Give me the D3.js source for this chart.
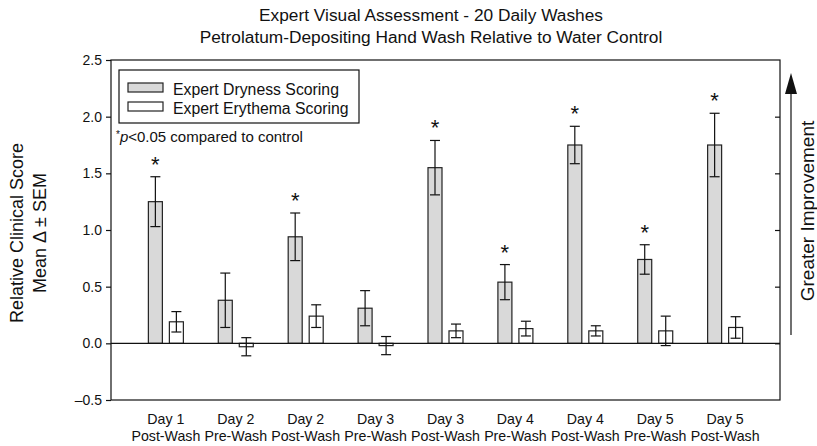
<!DOCTYPE html>
<html>
<head>
<meta charset="utf-8">
<script src="https://cdn.jsdelivr.net/npm/d3@7"></script>
<style>
  body { margin: 0; background: #fff; }
  svg text { font-family: "Liberation Sans", Arial, sans-serif; fill: #111; }
</style>
</head>
<body>
<script>
// data
var dayLabels = ["Day 1", "Day 2", "Day 2", "Day 3", "Day 3", "Day 4", "Day 4", "Day 5", "Day 5"];
var washLabels = ["Post-Wash", "Pre-Wash", "Post-Wash", "Pre-Wash", "Post-Wash", "Pre-Wash", "Post-Wash", "Pre-Wash", "Post-Wash"];
var drynessMean = [1.25, 0.38, 0.94, 0.31, 1.55, 0.54, 1.75, 0.74, 1.75];
var drynessSem  = [0.22, 0.24, 0.21, 0.155, 0.24, 0.155, 0.165, 0.13, 0.28];
var erythemaMean = [0.19, -0.03, 0.24, -0.02, 0.11, 0.13, 0.11, 0.11, 0.14];
var erythemaSem  = [0.09, 0.08, 0.10, 0.08, 0.06, 0.065, 0.045, 0.13, 0.095];
var significant = [true, false, true, false, true, true, true, true, true];
var yTicks = [-0.5, 0.0, 0.5, 1.0, 1.5, 2.0, 2.5];

var width = 817, height = 446;
var plotLeft = 111, plotRight = 780, plotTop = 60, plotBottom = 400;

var svg = d3.select("body").append("svg")
    .attr("width", width)
    .attr("height", height);

var x = d3.scalePoint()
    .domain(d3.range(dayLabels.length))
    .range([plotLeft, plotRight])
    .padding(0.785);

var y = d3.scaleLinear()
    .domain([-0.5, 2.5])
    .range([plotBottom, plotTop]);

var barW = 14, gap = 7;

// titles
svg.append("text")
    .attr("x", 431).attr("y", 21)
    .attr("text-anchor", "middle")
    .style("font-size", "17.3px")
    .text("Expert Visual Assessment - 20 Daily Washes");
svg.append("text")
    .attr("x", 431).attr("y", 43)
    .attr("text-anchor", "middle")
    .style("font-size", "17.3px")
    .text("Petrolatum-Depositing Hand Wash Relative to Water Control");

// left axis
var fmt = function(d) { return d < 0 ? "\u2013" + d3.format(".1f")(-d) : d3.format(".1f")(d); };
var yAxis = svg.append("g")
    .attr("transform", "translate(" + plotLeft + ",0)")
    .call(d3.axisLeft(y).tickValues(yTicks).tickFormat(fmt).tickSize(5).tickPadding(4));
yAxis.selectAll("text").style("font-size", "14px").attr("fill", "#111");
yAxis.selectAll("line").attr("stroke", "#111").attr("stroke-width", 1.2);
yAxis.select(".domain").remove();

// right axis, ticks inside, no labels
var yAxisR = svg.append("g")
    .attr("transform", "translate(" + plotRight + ",0)")
    .call(d3.axisLeft(y).tickValues(yTicks.slice(1, -1)).tickFormat("").tickSize(5));
yAxisR.selectAll("line").attr("stroke", "#111").attr("stroke-width", 1.2);
yAxisR.select(".domain").remove();

// frame
svg.append("rect")
    .attr("x", plotLeft).attr("y", plotTop)
    .attr("width", plotRight - plotLeft).attr("height", plotBottom - plotTop)
    .attr("fill", "none")
    .attr("stroke", "#111")
    .attr("stroke-width", 1.2);

// category labels
var cat = svg.append("g");
cat.selectAll(".day")
    .data(dayLabels)
  .enter().append("text")
    .attr("x", function(d, i) { return x(i); })
    .attr("y", 424)
    .attr("text-anchor", "middle")
    .style("font-size", "14.2px")
    .text(function(d) { return d; });
cat.selectAll(".wash")
    .data(washLabels)
  .enter().append("text")
    .attr("x", function(d, i) { return x(i); })
    .attr("y", 441)
    .attr("text-anchor", "middle")
    .style("font-size", "14.2px")
    .text(function(d) { return d; });

// bars
function drawSeries(means, sems, dx, fill) {
  var g = svg.append("g");
  g.selectAll("rect")
      .data(means)
    .enter().append("rect")
      .attr("x", function(d, i) { return x(i) + dx; })
      .attr("y", function(d) { return y(Math.max(0, d)); })
      .attr("width", barW)
      .attr("height", function(d) { return Math.abs(y(d) - y(0)); })
      .attr("fill", fill)
      .attr("stroke", "#222")
      .attr("stroke-width", 1.2);

  var eb = g.selectAll(".err")
      .data(means)
    .enter().append("g")
      .attr("stroke", "#111")
      .attr("stroke-width", 1.2);
  eb.append("line")
      .attr("x1", function(d, i) { return x(i) + dx + barW / 2; })
      .attr("x2", function(d, i) { return x(i) + dx + barW / 2; })
      .attr("y1", function(d, i) { return y(d + sems[i]); })
      .attr("y2", function(d, i) { return y(d - sems[i]); });
  [1, -1].forEach(function(s) {
    eb.append("line")
        .attr("x1", function(d, i) { return x(i) + dx + barW / 2 - 5; })
        .attr("x2", function(d, i) { return x(i) + dx + barW / 2 + 5; })
        .attr("y1", function(d, i) { return y(d + s * sems[i]); })
        .attr("y2", function(d, i) { return y(d + s * sems[i]); });
  });
}

drawSeries(drynessMean, drynessSem, -gap / 2 - barW, "#d9d9d9");
drawSeries(erythemaMean, erythemaSem, gap / 2, "#ffffff");

// zero line
svg.append("line")
    .attr("x1", plotLeft).attr("x2", plotRight)
    .attr("y1", y(0)).attr("y2", y(0))
    .attr("stroke", "#111")
    .attr("stroke-width", 1.2);

// significance asterisks (dryness only)
var sigIdx = d3.range(drynessMean.length).filter(function(i) { return significant[i]; });
svg.append("g").selectAll("text")
    .data(sigIdx)
  .enter().append("text")
    .attr("x", function(i) { return x(i) - gap / 2 - barW / 2; })
    .attr("y", function(i) { return y(drynessMean[i] + drynessSem[i]) - 5; })
    .attr("text-anchor", "middle")
    .style("font-size", "22px")
    .text("*");

// legend
var leg = svg.append("g");
leg.append("rect")
    .attr("x", 119).attr("y", 70)
    .attr("width", 240).attr("height", 53)
    .attr("fill", "#fff")
    .attr("stroke", "#111")
    .attr("stroke-width", 1.2);
var legItems = [["Expert Dryness Scoring", "#d9d9d9"], ["Expert Erythema Scoring", "#ffffff"]];
legItems.forEach(function(d, i) {
  leg.append("rect")
      .attr("x", 128).attr("y", 83 + i * 19)
      .attr("width", 35).attr("height", 9)
      .attr("fill", d[1])
      .attr("stroke", "#222")
      .attr("stroke-width", 1.2);
  leg.append("text")
      .attr("x", 173).attr("y", 95 + i * 19)
      .style("font-size", "15.8px")
      .text(d[0]);
});

var note = svg.append("text")
    .attr("x", 116).attr("y", 142)
    .style("font-size", "15px");
note.append("tspan").attr("dy", -4).style("font-size", "10px").text("*");
note.append("tspan").attr("dy", 4).style("font-style", "italic").text("p");
note.append("tspan").text("<0.05 compared to control");

// y axis label
var yl = svg.append("text")
    .attr("transform", "translate(0,233) rotate(-90)")
    .attr("text-anchor", "middle")
    .style("font-size", "18px");
yl.append("tspan").attr("x", 0).attr("y", 23).text("Relative Clinical Score");
yl.append("tspan").attr("x", 0).attr("y", 46).text("Mean \u0394 \u00b1 SEM");

// right annotation with arrow
svg.append("line")
    .attr("x1", 791).attr("x2", 791)
    .attr("y1", 335).attr("y2", 90)
    .attr("stroke", "#111")
    .attr("stroke-width", 1.2);
svg.append("path")
    .attr("d", d3.line()([[785, 94], [797, 94], [791, 73]]))
    .attr("fill", "#111");
svg.append("text")
    .attr("transform", "translate(814,211) rotate(-90)")
    .attr("text-anchor", "middle")
    .style("font-size", "19px")
    .text("Greater Improvement");
</script>
</body>
</html>
